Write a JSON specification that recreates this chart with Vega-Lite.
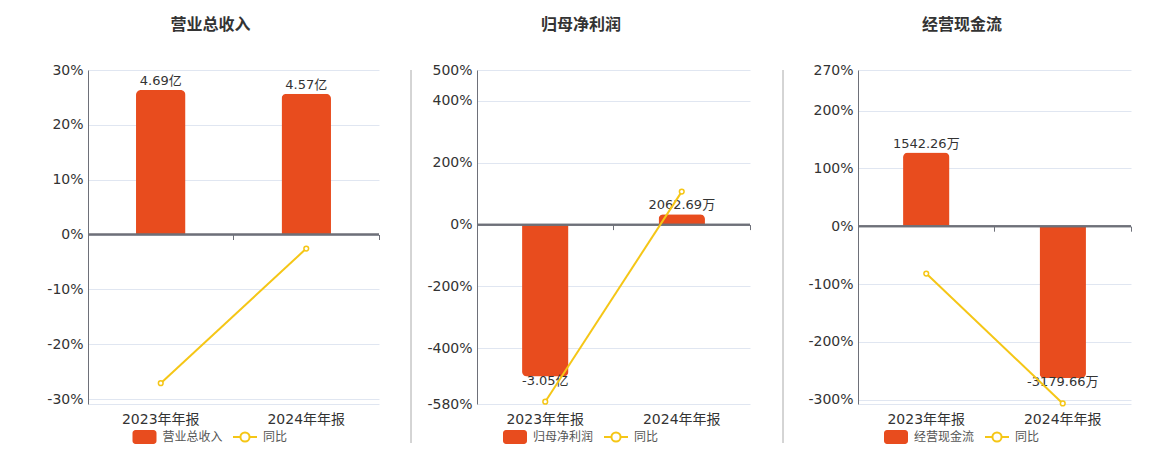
{
  "$schema": "https://vega.github.io/schema/vega-lite/v6.json",
  "padding": {"left": 46, "top": 16, "right": 10, "bottom": 0},
  "config": {"view": {"stroke": null}, "font": "DejaVu Sans, Noto Sans CJK SC"},
  "datasets": {
    "d1": [
      {"p": "2023年年报", "v": 4.69, "lab": "4.69亿", "s": "营业总收入", "g": -27.1},
      {"p": "2024年年报", "v": 4.57, "lab": "4.57亿", "s": "营业总收入", "g": -2.56}
    ],
    "d2": [
      {"p": "2023年年报", "v": -3.05, "lab": "-3.05亿", "s": "归母净利润", "g": -572.6},
      {"p": "2024年年报", "v": 0.2063, "lab": "2062.69万", "s": "归母净利润", "g": 106.76}
    ],
    "d3": [
      {"p": "2023年年报", "v": 1542.26, "lab": "1542.26万", "s": "经营现金流", "g": -81.8},
      {"p": "2024年年报", "v": -3179.66, "lab": "-3179.66万", "s": "经营现金流", "g": -306.2}
    ]
  },
  "spacing": 14,
  "align": "none",
  "resolve": {"scale": {"color": "independent", "stroke": "independent"}, "legend": {"color": "independent", "stroke": "independent"}},
  "hconcat": [
    {
      "spacing": 30,
      "align": "none",
      "resolve": {"scale": {"color": "independent", "stroke": "independent"}, "legend": {"color": "independent", "stroke": "independent"}},
      "hconcat": [
        {
          "width": 291, "height": 334,
          "data": {"name": "d1"},
          "title": {"text": "营业总收入", "anchor": "middle", "frame": "bounds", "fontSize": 16, "fontWeight": "bold", "color": "#333333", "offset": 30.5, "dx": -3},
          "resolve": {"scale": {"y": "independent"}, "axis": {"x": "independent", "y": "independent"}},
          "layer": [
            {
              "encoding": {
                "x": {"field": "p", "type": "nominal", "sort": null, "scale": {"type": "band", "domain": ["2023年年报", "2024年年报"], "paddingInner": 0, "paddingOuter": 0}, "axis": {"orient": "bottom", "domain": false, "ticks": false, "labelPadding": 8, "labelFontSize": 14, "labelColor": "#333333", "labelAngle": 0, "title": null, "grid": false}},
                "y": {"field": "v", "type": "quantitative", "scale": {"domain": [-5.50, 5.34], "nice": false, "zero": false}, "axis": null}
              },
              "layer": [
                {"transform": [{"filter": "datum.v >= 0"}], "mark": {"type": "bar", "width": {"band": 0.34}, "cornerRadiusTopLeft": 5, "cornerRadiusTopRight": 5},
                 "encoding": {"color": {"field": "s", "type": "nominal", "scale": {"domain": ["营业总收入"], "range": ["#E84C1E"]},
                   "legend": {"title": null, "orient": "none", "legendX": 43.5, "legendY": 354, "direction": "horizontal", "labelFontSize": 12, "labelColor": "#555555", "labelOffset": 5, "symbolSize": 576, "symbolType": "M-0.75,-0.583H0.75A0.25,0.25,0,0,1,1,-0.333V0.333A0.25,0.25,0,0,1,0.75,0.583H-0.75A0.25,0.25,0,0,1,-1,0.333V-0.333A0.25,0.25,0,0,1,-0.75,-0.583Z"}}}},
                {"transform": [{"filter": "datum.v >= 0"}], "mark": {"type": "text", "baseline": "alphabetic", "dy": -5, "fontSize": 13, "color": "#333333"}, "encoding": {"text": {"field": "lab"}}}
              ]
            },
            {
              "layer": [
                {"mark": {"type": "rule", "color": "#6e7079", "strokeWidth": 2}, "encoding": {"y": {"datum": 0, "type": "quantitative", "scale": {"domain": [-30.9, 30], "nice": false, "zero": false}}}},
                {"mark": {"type": "line", "strokeWidth": 2, "point": {"filled": false, "fill": "white", "size": 22, "strokeWidth": 1.5}},
                 "encoding": {
                   "x": {"field": "p", "type": "nominal", "sort": null, "scale": {"type": "band", "domain": ["2023年年报", "2024年年报"], "paddingInner": 0, "paddingOuter": 0}, "axis": {"orient": "bottom", "offset": -169.5, "domain": false, "ticks": true, "tickSize": 5, "tickColor": "#6e7079", "labels": false, "bandPosition": 1, "title": null, "grid": false}},
                   "y": {"field": "g", "type": "quantitative", "scale": {"domain": [-30.9, 30], "nice": false, "zero": false},
                     "axis": {"orient": "left", "values": [-30.9, -30, -20, -10, 0, 10, 20, 30], "labelExpr": "datum.value < -30.5 ? '' : datum.value + '%'", "domain": true, "domainColor": "#6e7079", "ticks": false, "grid": true, "gridColor": "#e0e6f1", "labelFontSize": 14, "labelColor": "#333333", "labelPadding": 5, "title": null, "labelOverlap": false}},
                   "stroke": {"datum": "同比", "type": "nominal", "scale": {"domain": ["同比"], "range": ["#F5C616"]},
                     "legend": {"title": null, "orient": "none", "legendX": 144, "legendY": 354, "direction": "horizontal", "labelFontSize": 12, "labelColor": "#555555", "labelOffset": 5, "symbolSize": 576, "symbolStrokeWidth": 2, "symbolType": "M-1,0H-0.38M0.38,0H1M0.38,0A0.38,0.38,0,1,1,-0.38,0A0.38,0.38,0,1,1,0.38,0"}}
                 }}
              ]
            }
          ]
        },
        {"width": 1, "height": 373, "data": {"values": [{"a": 0}]}, "mark": {"type": "rule", "color": "#aaaaaa", "strokeWidth": 1}, "encoding": {"x": {"field": "a", "type": "quantitative", "scale": {"domain": [0, 1]}, "axis": null}}}
      ]
    },
    {
      "spacing": 31,
      "align": "none",
      "resolve": {"scale": {"color": "independent", "stroke": "independent"}, "legend": {"color": "independent", "stroke": "independent"}},
      "hconcat": [
        {
          "width": 273, "height": 334,
          "data": {"name": "d2"},
          "title": {"text": "归母净利润", "anchor": "middle", "frame": "bounds", "fontSize": 16, "fontWeight": "bold", "color": "#333333", "offset": 30.5, "dx": -8},
          "resolve": {"scale": {"y": "independent"}, "axis": {"x": "independent", "y": "independent"}},
          "layer": [
            {
              "encoding": {
                "x": {"field": "p", "type": "nominal", "sort": null, "scale": {"type": "band", "domain": ["2023年年报", "2024年年报"], "paddingInner": 0, "paddingOuter": 0}, "axis": {"orient": "bottom", "domain": false, "ticks": false, "labelPadding": 8, "labelFontSize": 14, "labelColor": "#333333", "labelAngle": 0, "title": null, "grid": false}},
                "y": {"field": "v", "type": "quantitative", "scale": {"domain": [-3.60, 3.10], "nice": false, "zero": false}, "axis": null}
              },
              "layer": [
                {"transform": [{"filter": "datum.v >= 0"}], "mark": {"type": "bar", "width": {"band": 0.34}, "cornerRadiusTopLeft": 5, "cornerRadiusTopRight": 5},
                 "encoding": {"color": {"field": "s", "type": "nominal", "scale": {"domain": ["归母净利润"], "range": ["#E84C1E"]},
                   "legend": {"title": null, "orient": "none", "legendX": 25, "legendY": 354, "direction": "horizontal", "labelFontSize": 12, "labelColor": "#555555", "labelOffset": 5, "symbolSize": 576, "symbolType": "M-0.75,-0.583H0.75A0.25,0.25,0,0,1,1,-0.333V0.333A0.25,0.25,0,0,1,0.75,0.583H-0.75A0.25,0.25,0,0,1,-1,0.333V-0.333A0.25,0.25,0,0,1,-0.75,-0.583Z"}}}},
                {"transform": [{"filter": "datum.v < 0"}], "mark": {"type": "bar", "width": {"band": 0.34}, "cornerRadiusBottomLeft": 5, "cornerRadiusBottomRight": 5},
                 "encoding": {"color": {"field": "s", "type": "nominal"}}},
                {"transform": [{"filter": "datum.v >= 0"}], "mark": {"type": "text", "baseline": "alphabetic", "dy": -5, "fontSize": 13, "color": "#333333"}, "encoding": {"text": {"field": "lab"}}},
                {"transform": [{"filter": "datum.v < 0"}], "mark": {"type": "text", "baseline": "top", "dy": -2, "fontSize": 13, "color": "#333333"}, "encoding": {"text": {"field": "lab"}}}
              ]
            },
            {
              "layer": [
                {"mark": {"type": "rule", "color": "#6e7079", "strokeWidth": 2}, "encoding": {"y": {"datum": 0, "type": "quantitative", "scale": {"domain": [-580, 500], "nice": false, "zero": false}}}},
                {"mark": {"type": "line", "strokeWidth": 2, "point": {"filled": false, "fill": "white", "size": 22, "strokeWidth": 1.5}},
                 "encoding": {
                   "x": {"field": "p", "type": "nominal", "sort": null, "scale": {"type": "band", "domain": ["2023年年报", "2024年年报"], "paddingInner": 0, "paddingOuter": 0}, "axis": {"orient": "bottom", "offset": -179.4, "domain": false, "ticks": true, "tickSize": 5, "tickColor": "#6e7079", "labels": false, "bandPosition": 1, "title": null, "grid": false}},
                   "y": {"field": "g", "type": "quantitative", "scale": {"domain": [-580, 500], "nice": false, "zero": false},
                     "axis": {"orient": "left", "values": [-580, -400, -200, 0, 200, 400, 500], "labelExpr": "datum.value + '%'", "domain": true, "domainColor": "#6e7079", "ticks": false, "grid": true, "gridColor": "#e0e6f1", "labelFontSize": 14, "labelColor": "#333333", "labelPadding": 5, "title": null, "labelOverlap": false}},
                   "stroke": {"datum": "同比", "type": "nominal", "scale": {"domain": ["同比"], "range": ["#F5C616"]},
                     "legend": {"title": null, "orient": "none", "legendX": 126, "legendY": 354, "direction": "horizontal", "labelFontSize": 12, "labelColor": "#555555", "labelOffset": 5, "symbolSize": 576, "symbolStrokeWidth": 2, "symbolType": "M-1,0H-0.38M0.38,0H1M0.38,0A0.38,0.38,0,1,1,-0.38,0A0.38,0.38,0,1,1,0.38,0"}}
                 }}
              ]
            }
          ]
        },
        {"width": 10, "height": 373, "data": {"values": [{"a": 0}]}, "mark": {"type": "rule", "color": "#aaaaaa", "strokeWidth": 1}, "encoding": {"x": {"field": "a", "type": "quantitative", "scale": {"domain": [0, 1]}, "axis": null}}}
      ]
    },
    {
      "width": 273, "height": 334,
      "data": {"name": "d3"},
      "title": {"text": "经营现金流", "anchor": "middle", "frame": "bounds", "fontSize": 16, "fontWeight": "bold", "color": "#333333", "offset": 30.5, "dx": -8},
      "resolve": {"scale": {"y": "independent"}, "axis": {"x": "independent", "y": "independent"}},
      "layer": [
        {
          "encoding": {
            "x": {"field": "p", "type": "nominal", "sort": null, "scale": {"type": "band", "domain": ["2023年年报", "2024年年报"], "paddingInner": 0, "paddingOuter": 0}, "axis": {"orient": "bottom", "domain": false, "ticks": false, "labelPadding": 8, "labelFontSize": 14, "labelColor": "#333333", "labelAngle": 0, "title": null, "grid": false}},
            "y": {"field": "v", "type": "quantitative", "scale": {"domain": [-3721, 3270], "nice": false, "zero": false}, "axis": null}
          },
          "layer": [
            {"transform": [{"filter": "datum.v >= 0"}], "mark": {"type": "bar", "width": {"band": 0.34}, "cornerRadiusTopLeft": 5, "cornerRadiusTopRight": 5},
             "encoding": {"color": {"field": "s", "type": "nominal", "scale": {"domain": ["经营现金流"], "range": ["#E84C1E"]},
               "legend": {"title": null, "orient": "none", "legendX": 25, "legendY": 354, "direction": "horizontal", "labelFontSize": 12, "labelColor": "#555555", "labelOffset": 5, "symbolSize": 576, "symbolType": "M-0.75,-0.583H0.75A0.25,0.25,0,0,1,1,-0.333V0.333A0.25,0.25,0,0,1,0.75,0.583H-0.75A0.25,0.25,0,0,1,-1,0.333V-0.333A0.25,0.25,0,0,1,-0.75,-0.583Z"}}}},
            {"transform": [{"filter": "datum.v < 0"}], "mark": {"type": "bar", "width": {"band": 0.34}, "cornerRadiusBottomLeft": 5, "cornerRadiusBottomRight": 5},
             "encoding": {"color": {"field": "s", "type": "nominal"}}},
            {"transform": [{"filter": "datum.v >= 0"}], "mark": {"type": "text", "baseline": "alphabetic", "dy": -5, "fontSize": 13, "color": "#333333"}, "encoding": {"text": {"field": "lab"}}},
            {"transform": [{"filter": "datum.v < 0"}], "mark": {"type": "text", "baseline": "top", "dy": -2, "fontSize": 13, "color": "#333333"}, "encoding": {"text": {"field": "lab"}}}
          ]
        },
        {
          "layer": [
            {"mark": {"type": "rule", "color": "#6e7079", "strokeWidth": 2}, "encoding": {"y": {"datum": 0, "type": "quantitative", "scale": {"domain": [-307.2, 270], "nice": false, "zero": false}}}},
            {"mark": {"type": "line", "strokeWidth": 2, "point": {"filled": false, "fill": "white", "size": 22, "strokeWidth": 1.5}},
             "encoding": {
               "x": {"field": "p", "type": "nominal", "sort": null, "scale": {"type": "band", "domain": ["2023年年报", "2024年年报"], "paddingInner": 0, "paddingOuter": 0}, "axis": {"orient": "bottom", "offset": -177.8, "domain": false, "ticks": true, "tickSize": 5, "tickColor": "#6e7079", "labels": false, "bandPosition": 1, "title": null, "grid": false}},
               "y": {"field": "g", "type": "quantitative", "scale": {"domain": [-307.2, 270], "nice": false, "zero": false},
                 "axis": {"orient": "left", "values": [-307.2, -300, -200, -100, 0, 100, 200, 270], "labelExpr": "datum.value < -305 ? '' : datum.value + '%'", "domain": true, "domainColor": "#6e7079", "ticks": false, "grid": true, "gridColor": "#e0e6f1", "labelFontSize": 14, "labelColor": "#333333", "labelPadding": 5, "title": null, "labelOverlap": false}},
               "stroke": {"datum": "同比", "type": "nominal", "scale": {"domain": ["同比"], "range": ["#F5C616"]},
                 "legend": {"title": null, "orient": "none", "legendX": 126, "legendY": 354, "direction": "horizontal", "labelFontSize": 12, "labelColor": "#555555", "labelOffset": 5, "symbolSize": 576, "symbolStrokeWidth": 2, "symbolType": "M-1,0H-0.38M0.38,0H1M0.38,0A0.38,0.38,0,1,1,-0.38,0A0.38,0.38,0,1,1,0.38,0"}}
             }}
          ]
        }
      ]
    }
  ]
}
